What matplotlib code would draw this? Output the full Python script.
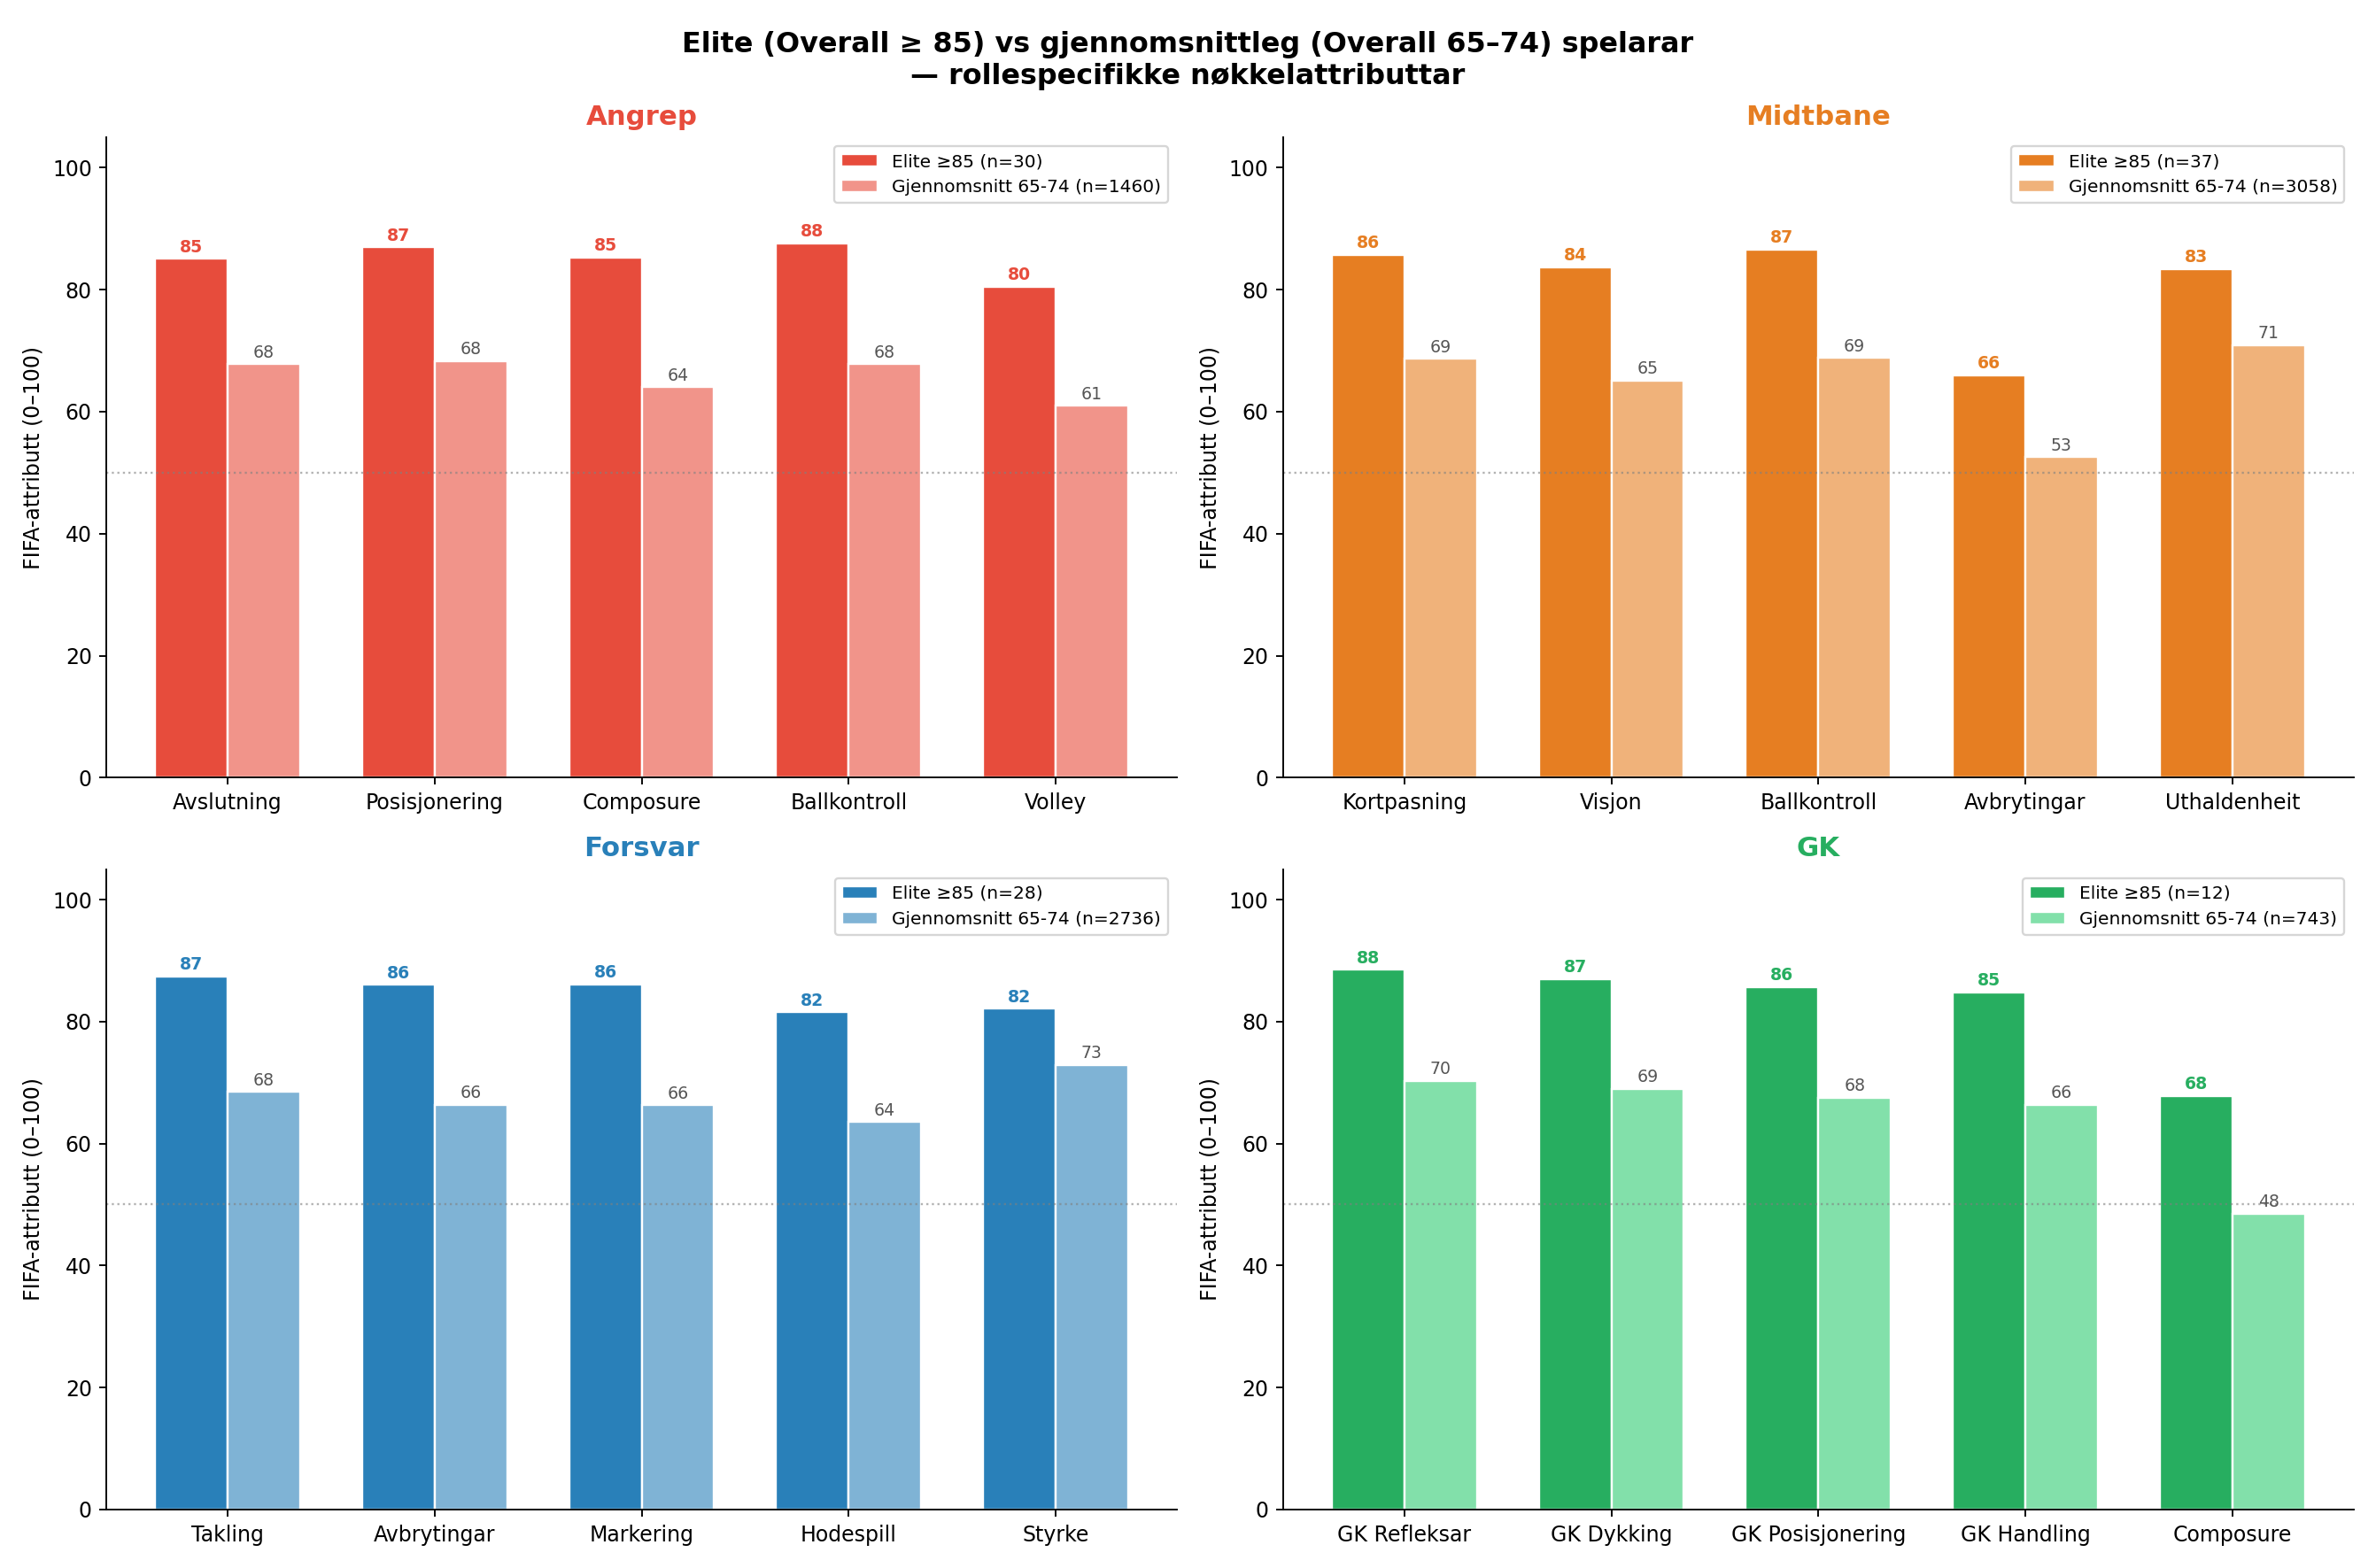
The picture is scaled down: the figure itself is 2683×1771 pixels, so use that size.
import matplotlib
matplotlib.use("Agg")
import matplotlib.pyplot as plt
import numpy as np

roles = ["Angrep", "Midtbane", "Forsvar", "GK"]
attrs = [
    ["Avslutning", "Posisjonering", "Composure", "Ballkontroll", "Volley"],
    ["Kortpasning", "Visjon", "Ballkontroll", "Avbrytingar", "Uthaldenheit"],
    ["Takling", "Avbrytingar", "Markering", "Hodespill", "Styrke"],
    ["GK Refleksar", "GK Dykking", "GK Posisjonering", "GK Handling", "Composure"],
]
elite = [
    [85.1, 87.0, 85.3, 87.6, 80.5],
    [85.7, 83.7, 86.6, 66.0, 83.4],
    [87.4, 86.0, 86.1, 81.5, 82.1],
    [88.5, 87.0, 85.7, 84.8, 67.8],
]
avg = [
    [67.8, 68.3, 64.0, 67.8, 61.0],
    [68.7, 65.1, 68.8, 52.6, 70.9],
    [68.5, 66.4, 66.3, 63.5, 72.9],
    [70.3, 69.0, 67.5, 66.4, 48.5],
]
n_elite = [30, 37, 28, 12]
n_avg = [1460, 3058, 2736, 743]
dark = ["#e74c3c", "#e67e22", "#2980b9", "#27ae60"]
light = ["#f1948a", "#f0b27a", "#7fb3d5", "#82e0aa"]

fig, axes = plt.subplots(2, 2, figsize=(2683/170, 1771/170), dpi=170)
w = 0.35
for i, ax in enumerate(axes.flat):
    x = np.arange(len(attrs[i]))
    b1 = ax.bar(x - w/2, elite[i], w, color=dark[i], edgecolor="white",
                label=f"Elite ≥85 (n={n_elite[i]})")
    b2 = ax.bar(x + w/2, avg[i], w, color=light[i], edgecolor="white",
                label=f"Gjennomsnitt 65-74 (n={n_avg[i]})")
    for r, v in zip(b1, elite[i]):
        ax.text(r.get_x() + r.get_width()/2, v + 0.5, f"{v:.0f}", ha="center",
                va="bottom", fontsize=8, fontweight="bold", color=dark[i])
    for r, v in zip(b2, avg[i]):
        ax.text(r.get_x() + r.get_width()/2, v + 0.5, f"{v:.0f}", ha="center",
                va="bottom", fontsize=8, color="#555555")
    ax.axhline(50, color="grey", linestyle=":", linewidth=1, alpha=0.6)
    ax.set_xticks(x)
    ax.set_xticklabels(attrs[i])
    ax.set_ylim(0, 105)
    ax.set_ylabel("FIFA-attributt (0–100)")
    ax.set_title(roles[i], fontsize=13, fontweight="bold", color=dark[i])
    ax.spines["top"].set_visible(False)
    ax.spines["right"].set_visible(False)
    ax.legend(loc="upper right", fontsize=8.5)

fig.suptitle("Elite (Overall ≥ 85) vs gjennomsnittleg (Overall 65–74) spelarar\n— rollespecifikke nøkkelattributtar",
             fontsize=13.5, fontweight="bold")
fig.tight_layout()
fig.savefig("out.png")
